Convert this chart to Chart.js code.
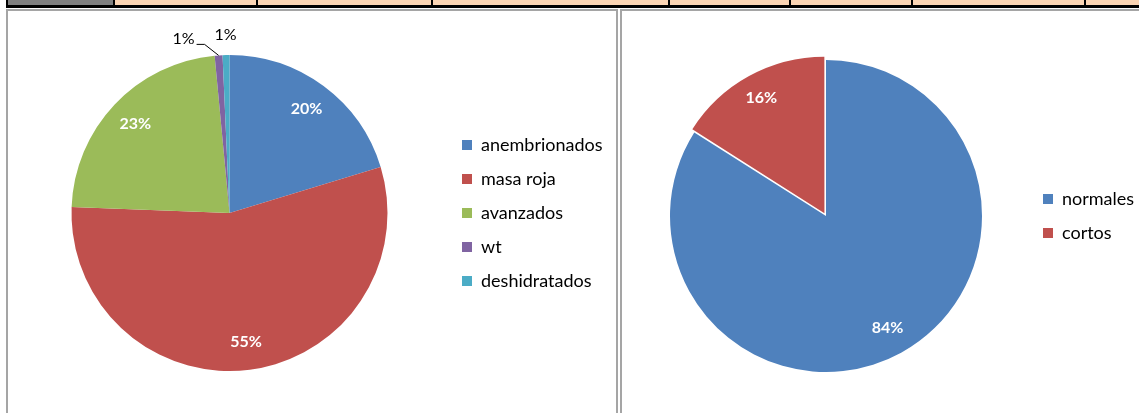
<!DOCTYPE html>
<html>
<head>
<meta charset="utf-8">
<script src="https://cdn.jsdelivr.net/npm/chart.js@4.4.1/dist/chart.umd.min.js"></script>
<style>
    body { margin: 0; width: 1139px; height: 413px; overflow: hidden; background: #fff; position: relative; }
    .tira { position: absolute; left: 6px; top: 0; width: 1140px; height: 5px; background: #fcd5b4; border-left: 2px solid #000; border-bottom: 3px solid #000; }
    .gris { position: absolute; left: 8px; top: 0; width: 105px; height: 5px; background: #808080; }
    .linea { position: absolute; top: 0; width: 2px; height: 5px; background: #000; }
    .panel { position: absolute; top: 9px; height: 410px; border: 2px solid #a5a5a5; box-sizing: border-box; }
    canvas { position: absolute; }
</style>
</head>
<body>
<div class="tira"></div>
<div class="gris"></div>
<div id="lineas"></div>
<div class="panel" style="left:6px; width:612px;"></div>
<div class="panel" style="left:620px; width:540px;"></div>
<canvas id="graficoEstados" width="607" height="402" style="left:8px; top:11px;"></canvas>
<canvas id="graficoLargo" width="560" height="402" style="left:622px; top:11px;"></canvas>

<script>
// Datos (porcentajes)
const categoriasEstado = ['anembrionados', 'masa roja', 'avanzados', 'wt', 'deshidratados'];
const valoresEstado = [20.3, 55.3, 22.9, 0.8, 0.7];
const coloresEstado = ['#4f81bd', '#c0504d', '#9bbb59', '#8064a2', '#4bacc6'];

const categoriasLargo = ['normales', 'cortos'];
const valoresLargo = [84, 16];
const coloresLargo = ['#4f81bd', '#c0504d'];

// Bordes de celdas de la hoja
const bordesCeldas = [113, 256, 431, 668, 789, 911, 1084];
const contLineas = document.getElementById('lineas');
bordesCeldas.forEach(x => {
    const d = document.createElement('div');
    d.className = 'linea';
    d.style.left = x + 'px';
    contLineas.appendChild(d);
});

const fuenteLeyenda = { family: 'Lato', size: 18 };
const paddingLeyenda = 16;

// ancho que ocupa la leyenda de Chart.js (caja + medio tamaño de fuente + texto + padding + 10)
function anchoLeyenda(etiquetas) {
    const c = document.createElement('canvas').getContext('2d');
    c.font = `normal ${fuenteLeyenda.size}px ${fuenteLeyenda.family}`;
    const maxTexto = Math.max(...etiquetas.map(t => c.measureText(t).width));
    return 10 + fuenteLeyenda.size / 2 + maxTexto + paddingLeyenda + 10;
}

// Etiquetas de porcentaje sobre cada porcion
const etiquetasPct = {
    id: 'etiquetasPct',
    afterDatasetsDraw(chart, args, opts) {
        const ctx = chart.ctx;
        const meta = chart.getDatasetMeta(0);
        const valores = chart.data.datasets[0].data;
        const total = valores.reduce((a, b) => a + b, 0);
        const guias = opts.guias || [];
        ctx.save();
        meta.data.forEach((arc, i) => {
            const pct = valores[i] / total * 100;
            const texto = Math.round(pct) + '%';
            const { x, y, startAngle, endAngle, outerRadius } = arc.getProps(['x', 'y', 'startAngle', 'endAngle', 'outerRadius'], true);
            const medio = (startAngle + endAngle) / 2;
            const desp = (arc.options.offset || 0) / 2;
            const cx = x + Math.cos(medio) * desp;
            const cy = y + Math.sin(medio) * desp;
            if (pct >= 3) {
                ctx.font = 'bold 16px Lato';
                ctx.fillStyle = '#fff';
                ctx.textAlign = 'center';
                ctx.textBaseline = 'middle';
                const r = outerRadius * 0.82;
                ctx.fillText(texto, cx + Math.cos(medio) * r, cy + Math.sin(medio) * r);
            } else {
                ctx.font = '16px Lato';
                ctx.fillStyle = '#000';
                ctx.textBaseline = 'middle';
                if (guias.includes(i)) {
                    const px = cx + Math.cos(medio) * outerRadius;
                    const py = cy + Math.sin(medio) * outerRadius;
                    ctx.strokeStyle = '#000';
                    ctx.lineWidth = 1;
                    ctx.beginPath();
                    ctx.moveTo(px, py);
                    ctx.lineTo(px - 14, py - 11);
                    ctx.lineTo(px - 22, py - 11);
                    ctx.stroke();
                    ctx.textAlign = 'right';
                    ctx.fillText(texto, px - 24, py - 17);
                } else {
                    const r = outerRadius + 20;
                    ctx.textAlign = 'center';
                    ctx.fillText(texto, cx + Math.cos(medio) * r, cy + Math.sin(medio) * r);
                }
            }
        });
        ctx.restore();
    }
};

function crearTorta(idCanvas, etiquetas, valores, colores, offsets, padding, guias) {
    const canvas = document.getElementById(idCanvas);
    return new Chart(canvas.getContext('2d'), {
        type: 'pie',
        data: {
            labels: etiquetas,
            datasets: [{
                data: valores,
                backgroundColor: colores,
                borderWidth: 0,
                offset: offsets
            }]
        },
        options: {
            responsive: false,
            animation: false,
            layout: { padding: padding },
            plugins: {
                legend: {
                    position: 'right',
                    labels: {
                        boxWidth: 10,
                        boxHeight: 10,
                        padding: paddingLeyenda,
                        color: '#000',
                        font: fuenteLeyenda
                    }
                },
                tooltip: { enabled: false },
                etiquetasPct: { guias: guias }
            }
        },
        plugins: [etiquetasPct]
    });
}

// Grafico izquierdo: centro (221.5, 202) en el canvas, radio 158
const derechaArea1 = 454 - paddingLeyenda;
crearTorta('graficoEstados', categoriasEstado, valoresEstado, coloresEstado, 0, {
    top: 44,
    bottom: 42,
    left: 443 - derechaArea1,
    right: 607 - derechaArea1 - anchoLeyenda(categoriasEstado)
}, [3]);

// Grafico derecho: porcion "cortos" separada
const derechaArea2 = 421 - paddingLeyenda;
crearTorta('graficoLargo', categoriasLargo, valoresLargo, coloresLargo, [0, 13], {
    top: 42.5,
    bottom: 34.5,
    left: 408 - derechaArea2,
    right: 560 - derechaArea2 - anchoLeyenda(categoriasLargo)
}, []);
</script>
</body>
</html>
